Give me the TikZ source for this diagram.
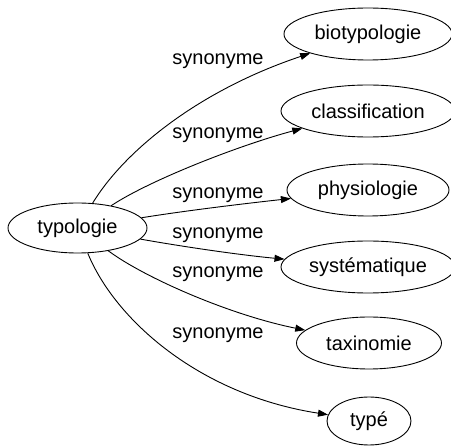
\documentclass[tikz,border=0pt]{standalone}
\usepackage{fontspec}
\setmainfont{Liberation Sans}
\usetikzlibrary{shapes.geometric,arrows.meta}

\begin{document}
\begin{tikzpicture}[x=1pt,y=-1pt,
        font=\fontsize{20}{24}\selectfont,
        word/.style={draw, ellipse, inner sep=0pt, line width=0.9pt},
        syn/.style={line width=0.9pt, -{Triangle[length=10pt,width=7pt]}}]
        \useasboundingbox (0,0) rectangle (451,446);
        \node[word, minimum width=139pt, minimum height=50pt] (typ) at (77.5,228) {typologie};
        \node[word, minimum width=168pt, minimum height=52pt] (bio) at (368,34) {biotypologie};
        \node[word, minimum width=174pt, minimum height=52pt] (cls) at (368,111) {classification};
        \node[word, minimum width=162pt, minimum height=52pt] (phy) at (368,190) {physiologie};
        \node[word, minimum width=174pt, minimum height=52pt] (sys) at (368,267) {systématique};
        \node[word, minimum width=145pt, minimum height=52pt] (tax) at (369,343) {taxinomie};
        \node[word, minimum width=84pt, minimum height=48pt] (tpe) at (369,421) {typé};
        \draw[syn] (typ) .. controls (125,150) and (200,90) .. (bio);
        \draw[syn] (typ) .. controls (150,180) and (240,145) .. (cls);
        \draw[syn] (typ) .. controls (190,210) and (250,203) .. (phy);
        \draw[syn] (typ) .. controls (185,247) and (240,255) .. (sys);
        \draw[syn] (typ) .. controls (145,278) and (230,315) .. (tax);
        \draw[syn] (typ) .. controls (115,320) and (200,395) .. (tpe);
        \node (s1) at (218,61) {synonyme};
        \node (s2) at (218,135) {synonyme};
        \node (s3) at (218,195) {synonyme};
        \node (s4) at (218,235) {synonyme};
        \node (s5) at (218,274) {synonyme};
        \node (s6) at (218,335) {synonyme};
    \end{tikzpicture}
\end{document}
